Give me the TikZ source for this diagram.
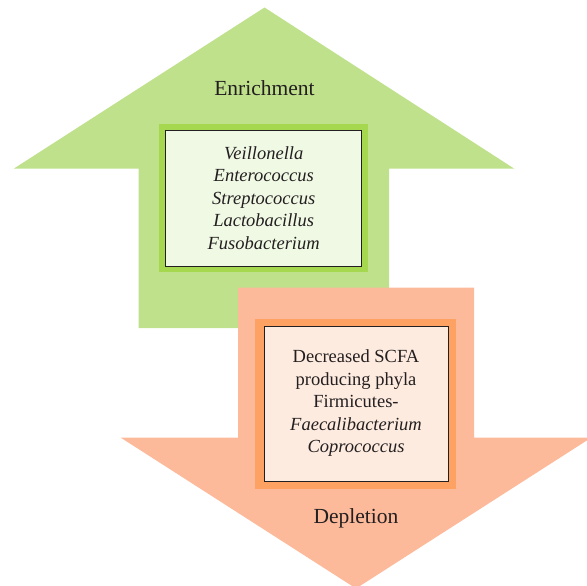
\documentclass[tikz,border=0pt]{standalone}
\usepackage{fontspec}
\setmainfont{Liberation Serif}
\definecolor{garrow}{HTML}{BFE18C}
\definecolor{gband}{HTML}{A5D74F}
\definecolor{gfill}{HTML}{F0F9E4}
\definecolor{oarrow}{HTML}{FDBA9B}
\definecolor{oband}{HTML}{FDA263}
\definecolor{ofill}{HTML}{FEEBDF}
\definecolor{ink}{HTML}{231F20}
\begin{document}
\begin{tikzpicture}[x=1pt,y=-1pt,
  heading/.style={text=ink,font=\fontsize{21.5}{25}\selectfont,inner sep=0pt},
  listbox/.style={draw=ink,line width=0.9pt,text=ink,align=center,
    font=\fontsize{18.5}{22.5}\selectfont,inner sep=0pt}]
\useasboundingbox (0,0) rectangle (587,586);
\begin{scope}
\clip (0,0) rectangle (587,586);
% green up arrow
\fill[garrow] (264.5,7.5) -- (514,168.5) -- (389,168.5) -- (389,328) -- (138.5,328)
  -- (138.5,168.5) -- (14,168.5) -- cycle;
\fill[gband] (159,124) rectangle (368,272);
% orange down arrow
\fill[oarrow] (238,287.5) -- (474,287.5) -- (474,437.5) -- (591.5,437.5)
  -- (356,588.5) -- (120.5,437.5) -- (238,437.5) -- cycle;
\fill[oband] (255,318.5) rectangle (456,489);
\end{scope}
\node[heading] (enr) at (264.5,88) {Enrichment};
\node[listbox,fill=gfill,minimum width=196pt,minimum height=136pt] (glist) at (263.7,198)
  {\itshape Veillonella\\\itshape Enterococcus\\\itshape Streptococcus\\\itshape Lactobacillus\\\itshape Fusobacterium};
\node[listbox,fill=ofill,minimum width=184pt,minimum height=155pt] (olist) at (356,403.5)
  {Decreased SCFA\\producing phyla\\Firmicutes-\\\itshape Faecalibacterium\\\itshape Coprococcus};
\node[heading] (dep) at (356,518.5) {Depletion};
\end{tikzpicture}
\end{document}
